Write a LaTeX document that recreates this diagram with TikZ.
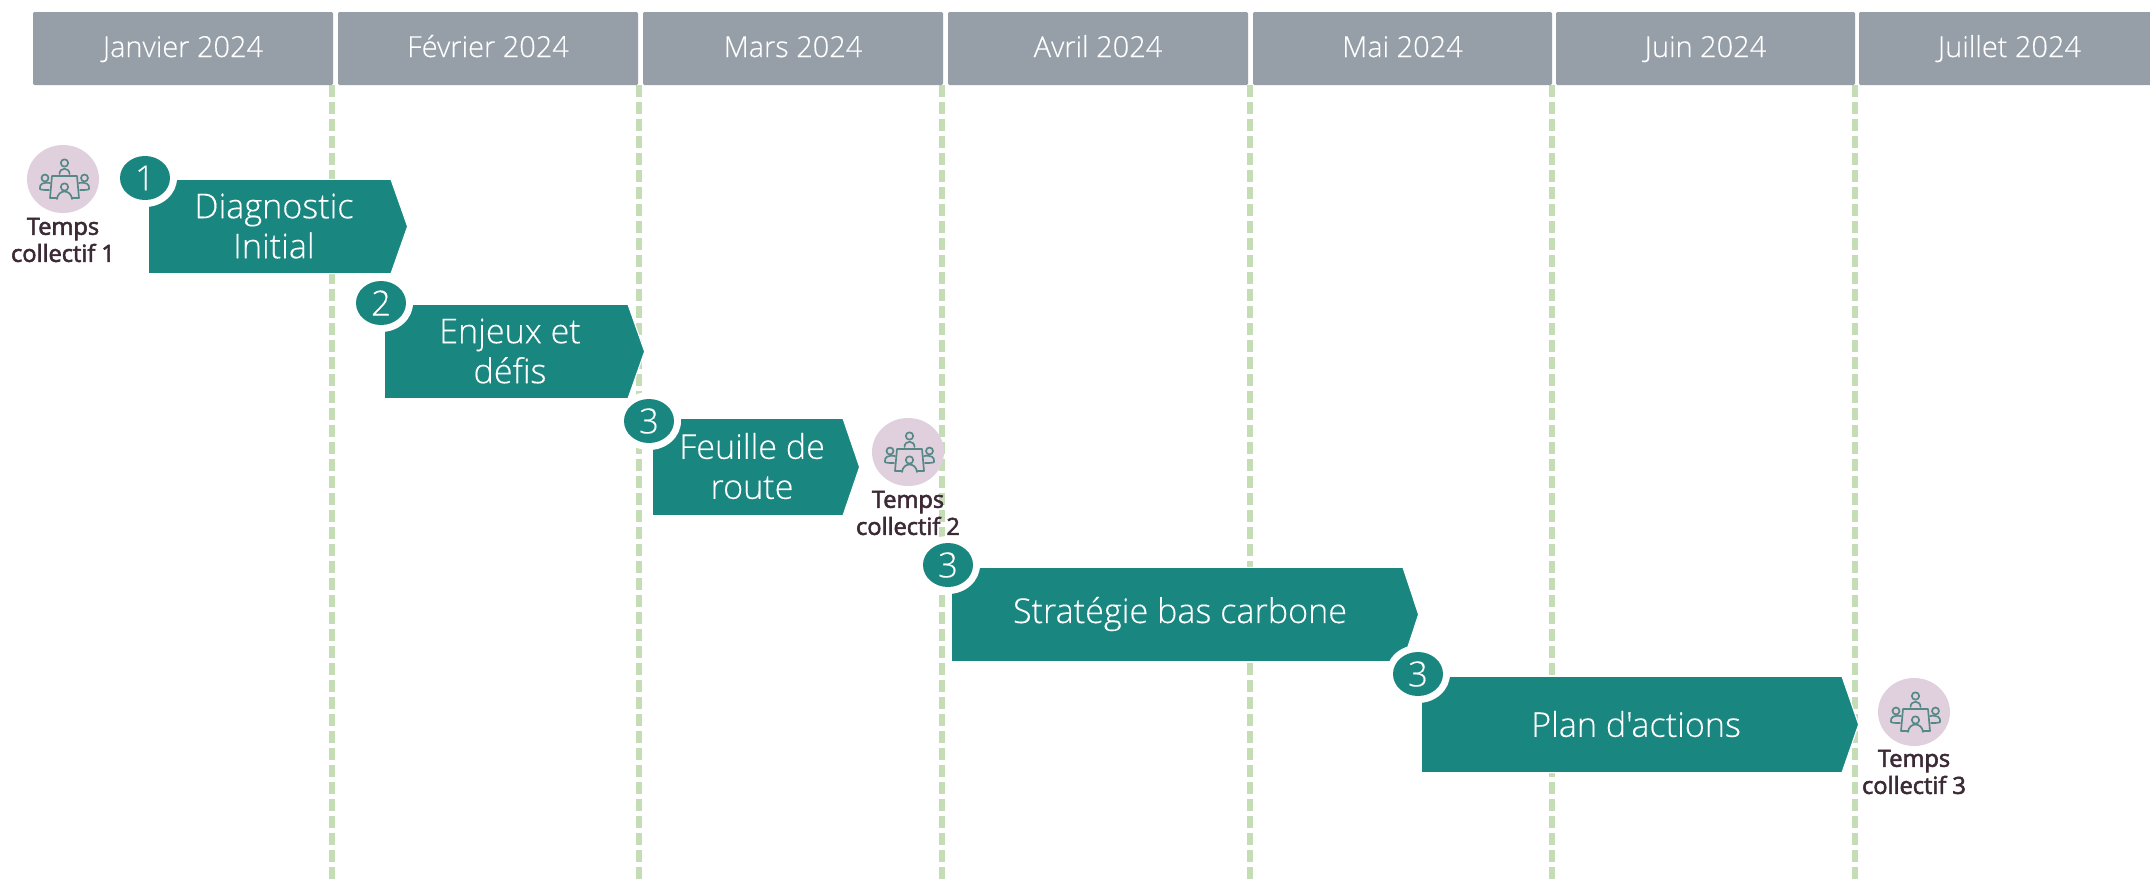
\documentclass[tikz,border=0pt]{standalone}
\usepackage{fontspec}
\setmainfont{Open Sans}
\newfontfamily\oslight[FakeBold=0.3]{Open Sans Light}
\newfontfamily\ossemi[FakeBold=2.4]{Open Sans}
\definecolor{teal1}{HTML}{1A8680}
\definecolor{head}{HTML}{969FA8}
\definecolor{dashc}{HTML}{C5DDB5}
\definecolor{pink1}{HTML}{E0D0DD}
\definecolor{ink}{HTML}{3B2A35}
\definecolor{icon}{HTML}{558886}
\tikzset{
  x=0.75pt,y=-0.75pt,
  month/.style={fill=head,rounded corners=1pt,draw=none},
  monthtext/.style={text=white,font=\oslight\fontsize{21.7}{26}\selectfont,anchor=base,inner sep=0pt},
  guide/.style={draw=dashc,line width=4.1pt,dash pattern=on 9pt off 3.75pt},
  stepshape/.style={fill=teal1,draw=white,line width=0.8pt},
  steptext/.style={text=white,font=\oslight\fontsize{25.6}{30}\selectfont,align=center,anchor=center,inner sep=0pt},
  badge/.style={fill=teal1,draw=none},
  halo/.style={fill=white,draw=none},
  badgetext/.style={text=white,font=\oslight\fontsize{26}{28}\selectfont,anchor=center,inner sep=0pt},
  meettext/.style={text=ink,font=\ossemi\fontsize{17.7}{20.3}\selectfont,align=center,anchor=center,inner sep=0pt},
  iconline/.style={draw=icon,line width=1.25pt,fill=none,line join=round,line cap=round},
}
\newcommand{\monthbox}[5]{% name x0 x1 text baseline
  \fill[month] (#2,12) rectangle (#3,85);
  \node[monthtext] (#1) at ({(#2+#3)/2},#5) {#4};
}
\newcommand{\stepbox}[9]{% name x0 shoulder tip y0 y1 textx texty text
  \path[stepshape] ({#2-0.6},{#5-0.6}) -- (#3,{#5-0.6}) -- ({#4+0.6},{(#5+#6)/2}) -- (#3,{#6+0.6}) -- ({#2-0.6},{#6+0.6}) -- cycle;
  \node[steptext] (#1) at (#7,#8) {#9};
}
\newcommand{\stepbadge}[4]{% name x y num
  \fill[halo] (#2,#3) ellipse [x radius=32,y radius=29];
  \fill[badge] (#2,#3) ellipse [x radius=25,y radius=22];
  \node[badgetext] (#1) at (#2,#3) {#4};
}
\newcommand{\meeting}[2]{% x y circle
  \begin{scope}[shift={(#1,#2)}]
    \fill[pink1] (0,0) ellipse [x radius=36,y radius=34];
    \begin{scope}[iconline]
      % table
      \draw (-6,19) -- (-13,19) -- (-11,-3) -- (14,-3) -- (16,19) -- (9,19);
      % top person
      \draw (1.5,-16) circle [radius=3.7];
      \draw (-3.5,-5) .. controls (-3.5,-12) and (6.5,-12) .. (6.5,-5);
      % left person
      \draw (-18,-1) circle [radius=3.5];
      \draw (-13,4) .. controls (-20,3) and (-24,5) .. (-23,10) .. controls (-22,11) and (-18,11) .. (-14,11);
      % right person
      \draw (21.5,-1) circle [radius=3.5];
      \draw (16,4) .. controls (23,3) and (27,5) .. (26,10) .. controls (25,11) and (21,11) .. (17,11);
      % front person
      \draw (1.5,8) circle [radius=3.7];
      \draw (-6,20) .. controls (-5,10) and (8,10) .. (9,20);
    \end{scope}
  \end{scope}
}
\begin{document}
\begin{tikzpicture}
\useasboundingbox (0,0) rectangle (2150,879);
\fill[white] (0,0) rectangle (2150,879);
% guides
\foreach \n/\x in {a/332,b/639,c/942,d/1250,e/1552,f/1855}{
  \coordinate (top\n) at (\x,85);
  \coordinate (bot\n) at (\x,879);
  \draw[guide] (top\n) -- (bot\n);
}
% months
\monthbox{m1}{33}{333}{Janvier 2024}{57}
\monthbox{m2}{338}{638}{Février 2024}{57}
\monthbox{m3}{643}{943}{Mars 2024}{57}
\monthbox{m4}{948}{1248}{Avril 2024}{57}
\monthbox{m5}{1253}{1552}{Mai 2024}{57}
\monthbox{m6}{1556}{1855}{Juin 2024}{57}
\monthbox{m7}{1859}{2160}{Juillet 2024}{57}
% meetings
\meeting{63}{179}
\node[meettext] (t1) at (63,240) {Temps\\collectif 1};
\meeting{908}{452}
\node[meettext] (t2) at (908,513) {Temps\\collectif 2};
\meeting{1914}{712}
\node[meettext] (t3) at (1914,772) {Temps\\collectif 3};
% steps
\stepbox{s1}{149}{391}{407}{180}{273}{274}{226}{Diagnostic\\Initial}
\stepbadge{b1}{145}{178}{1}
\stepbox{s2}{385}{628}{644}{305}{398}{510}{351}{Enjeux et\\défis}
\stepbadge{b2}{381}{303}{2}
\stepbox{s3}{653}{843}{859}{419}{515}{752}{466}{Feuille de\\route}
\stepbadge{b3}{649}{421}{3}
\stepbox{s4}{952}{1403}{1418}{568}{661}{1180}{614}{Stratégie bas carbone}
\stepbadge{b4}{948}{565}{3}
\stepbox{s5}{1422}{1842}{1858}{677}{772}{1636}{724}{Plan d'actions}
\stepbadge{b5}{1418}{674}{3}
\end{tikzpicture}
\end{document}
